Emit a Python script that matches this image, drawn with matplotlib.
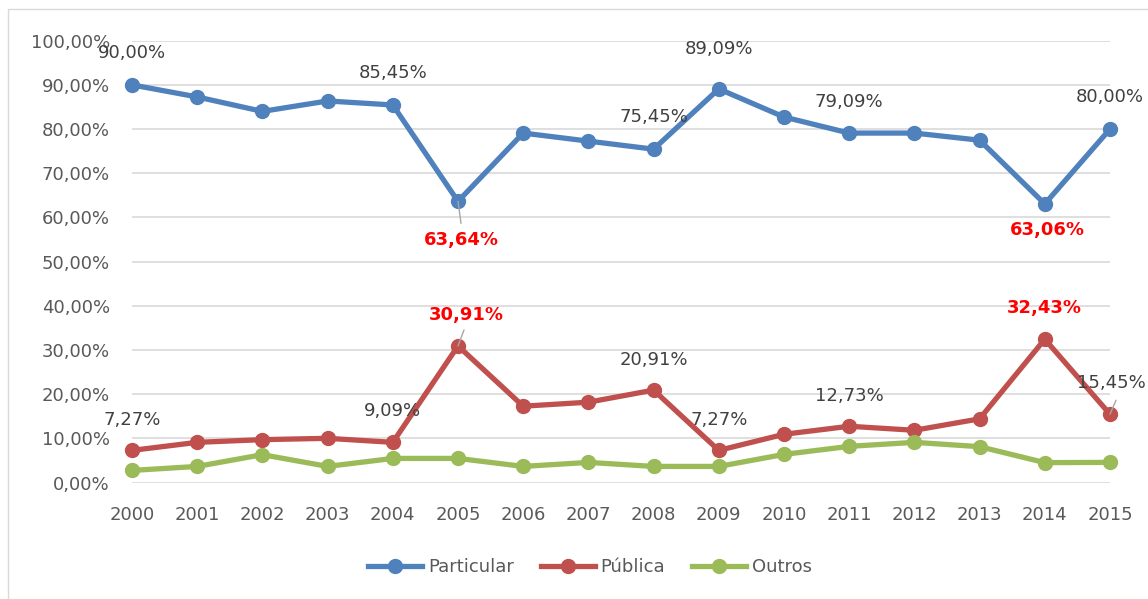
import matplotlib.pyplot as plt
from matplotlib.patches import Rectangle
from matplotlib.ticker import FuncFormatter

years = list(range(2000, 2016))
particular = [90.00, 87.27, 84.00, 86.36, 85.45, 63.64, 79.09, 77.27,
              75.45, 89.09, 82.73, 79.09, 79.09, 77.48, 63.06, 80.00]
publica = [7.27, 9.09, 9.70, 10.00, 9.09, 30.91, 17.27, 18.18,
           20.91, 7.27, 10.91, 12.73, 11.82, 14.41, 32.43, 15.45]
outros = [2.73, 3.64, 6.30, 3.64, 5.45, 5.45, 3.64, 4.55,
          3.64, 3.64, 6.36, 8.18, 9.09, 8.11, 4.50, 4.55]

# (year index, dx px, dy px, highlighted)
labels_particular = [(0, 0, 32, False), (4, 0, 32, False), (5, 3, -39, True),
                     (8, 0, 32, False), (9, 0, 40, False), (11, 0, 31, False),
                     (14, 3, -26, True), (15, 0, 32, False)]
labels_publica = [(0, 0, 30, False), (4, 0, 31, False), (5, 8, 31, True),
                  (8, 0, 30, False), (9, 0, 30, False), (11, 0, 30, False),
                  (14, 0, 31, True), (15, 1, 31, False)]

colors = {'Particular': '#4F81BD', 'Pública': '#C0504D', 'Outros': '#9BBB59'}


def pct(v):
    return '{:.2f}%'.format(v).replace('.', ',')


fig = plt.figure(figsize=(11.48, 5.99), dpi=100)
ax = fig.add_axes([132 / 1148, 1 - 482.5 / 599, 978 / 1148, 441.8 / 599])

# chart border
fig.patches.append(Rectangle((8 / 1148, -0.1), 1.2, 1 - 9 / 599 + 0.1,
                             transform=fig.transFigure, fill=False,
                             edgecolor='#D9D9D9', linewidth=1))

for name, vals in [('Particular', particular), ('Pública', publica),
                   ('Outros', outros)]:
    ax.plot(years, vals, color=colors[name], linewidth=3.8, marker='o',
            markersize=10, label=name, clip_on=False, zorder=3)

for series, labs in [(particular, labels_particular),
                     (publica, labels_publica)]:
    for idx, dx, dy, hi in labs:
        v = series[idx]
        kw = dict(color='#FF0000', fontweight='bold') if hi else \
            dict(color='#404040')
        ax.annotate(pct(v), (years[idx], v), xytext=(dx, dy),
                    textcoords='offset pixels', ha='center', va='center',
                    fontsize=13, zorder=4, **kw)

# leader lines
for yr, v, dx, dy in [(2005, 63.64, 3, -22), (2005, 30.91, 6, 16),
                      (2015, 15.45, 6, 14)]:
    ax.annotate('', (yr, v), xytext=(dx, dy), textcoords='offset pixels',
                arrowprops=dict(arrowstyle='-', color='#A6A6A6', lw=1,
                                shrinkA=0, shrinkB=0))

ax.set_xlim(2000, 2015)
ax.set_ylim(0, 100)
ax.set_xticks(years)
ax.set_yticks(range(0, 101, 10))
ax.yaxis.set_major_formatter(FuncFormatter(lambda v, p: pct(v)))
ax.grid(axis='y', color='#D9D9D9', linewidth=1.2)
ax.set_axisbelow(True)
for s in ax.spines.values():
    s.set_visible(False)
ax.tick_params(axis='both', length=0, labelsize=13, colors='#595959')
ax.tick_params(axis='y', pad=16)
ax.tick_params(axis='x', pad=17)

leg = ax.legend(loc='center', bbox_to_anchor=(590 / 1148, 1 - 567 / 599),
                bbox_transform=fig.transFigure, ncol=3, frameon=False,
                fontsize=13, handlelength=3, handletextpad=0.3,
                columnspacing=1.5)
for t in leg.get_texts():
    t.set_color('#595959')

fig.savefig('out.png', dpi=100)
